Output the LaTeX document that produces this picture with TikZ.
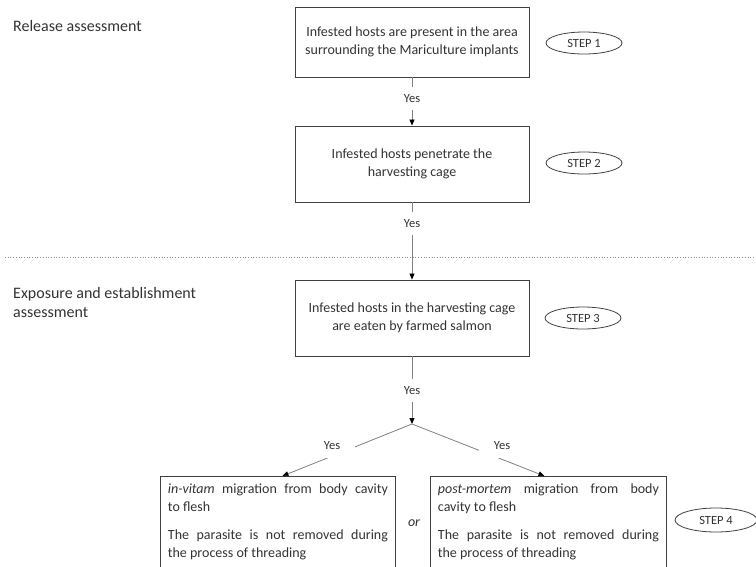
\documentclass[tikz,border=0pt]{standalone}
\usepackage{fontspec}
\setmainfont{Carlito}
\usetikzlibrary{arrows.meta,shapes.geometric}
\begin{document}
\begin{tikzpicture}[x=1pt,y=-1pt,
  every node/.style={text=black!80},
  mainbox/.style={draw=black!75, line width=0.9pt, minimum width=234pt, align=center,
    font=\fontsize{14}{18}\selectfont, inner sep=0pt},
  lowbox/.style={draw=black!75, line width=0.9pt, anchor=north west, inner xsep=7.5pt, inner ysep=7pt,
    font=\fontsize{14}{18}\selectfont},
  stepel/.style={draw=black!75, line width=0.8pt, ellipse, minimum width=76pt, minimum height=22pt,
    inner sep=0pt, font=\fontsize{12.5}{14}\selectfont},
  flow/.style={draw=black!50, line width=0.8pt, -{Triangle[length=6pt,width=5pt,color=black]}},
  yes/.style={fill=white, font=\fontsize{12.5}{14}\selectfont, minimum width=46pt, minimum height=23pt, inner sep=0pt},
  side/.style={anchor=west, align=left, inner sep=0pt, font=\fontsize{16}{19}\selectfont}
]
\useasboundingbox (0,0) rectangle (756,566);
\clip (0,0) rectangle (756,566);

% side labels
\node[side] (rel) at (13,26) {Release assessment};
\node[side] (exp) at (13,302) {Exposure and establishment\\assessment};

% separator
\draw[black!45, dotted, line width=0.7pt] (5,257) -- (756,257);

% main boxes
\node[mainbox, minimum height=70pt] (b1) at (412,42) {Infested hosts are present in the area\\surrounding the Mariculture implants};
\node[mainbox, minimum height=76pt] (b2) at (412,164) {Infested hosts penetrate the\\harvesting cage};
\node[mainbox, minimum height=76pt] (b3) at (412,318) {Infested hosts in the harvesting cage\\are eaten by farmed salmon};

\coordinate (br) at (412,424);

\node[lowbox] (b4l) at (160,476) {\parbox[t][100pt][t]{220pt}{\setlength{\parskip}{10pt}%
  \emph{in-vitam} migration from body cavity\linebreak to flesh\par
  The parasite is not removed during\linebreak the process of threading}};
\node[lowbox] (b4r) at (430,476) {\parbox[t][100pt][t]{221pt}{\setlength{\parskip}{10pt}%
  \emph{post-mortem} migration from body\linebreak cavity to flesh\par
  The parasite is not removed during\linebreak the process of threading}};

\node[font=\fontsize{14}{16}\selectfont\itshape, inner sep=0pt] (or) at (414,523) {or};

% steps
\node[stepel] (s1) at (584,43) {STEP 1};
\node[stepel] (s2) at (584,163) {STEP 2};
\node[stepel] (s3) at (583,318) {STEP 3};
\node[stepel, minimum width=82pt, minimum height=24pt] (s4) at (716,520) {STEP 4};

% connectors
\draw[flow] (b1) -- node[yes, pos=0.43] (y1) {Yes} (b2);
\draw[flow] (b2) -- node[yes, pos=0.27] (y2) {Yes} (b3);
\draw[flow] (b3) -- node[yes, pos=0.5] (y3) {Yes} (br);
\draw[flow] (br) -- ([xshift=4.5pt]b4l.north);
\draw[flow] (br) -- ([xshift=-4pt]b4r.north);
\node[yes] (y4) at (332,446) {Yes};
\node[yes] (y5) at (502,446) {Yes};
\end{tikzpicture}
\end{document}
